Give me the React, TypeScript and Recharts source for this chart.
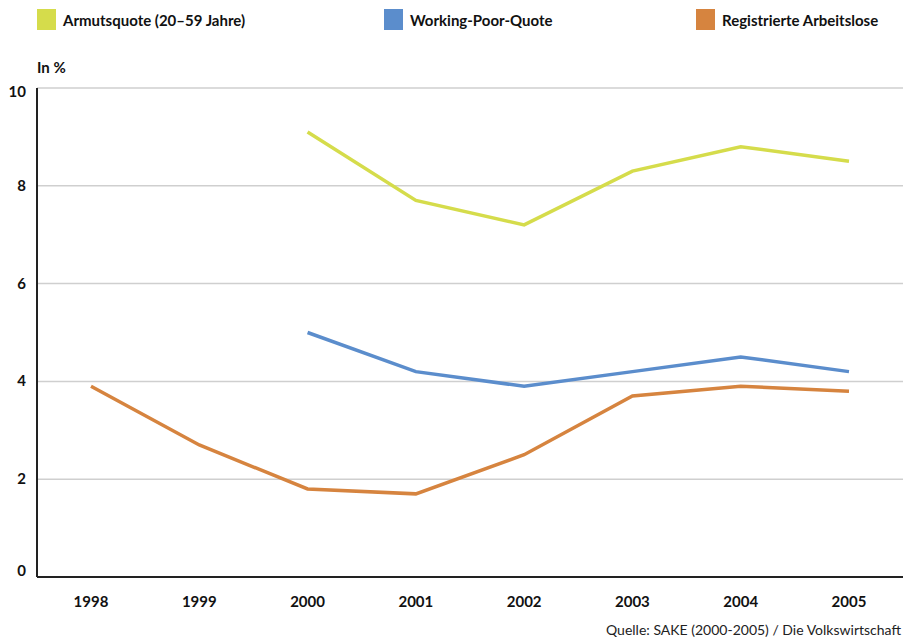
import React from 'react';
import { LineChart, Line, XAxis, YAxis, CartesianGrid } from 'recharts';

const years = ['1998', '1999', '2000', '2001', '2002', '2003', '2004', '2005'];
const armutsquote = [null, null, 9.1, 7.7, 7.2, 8.3, 8.8, 8.5];
const workingPoor = [null, null, 5.0, 4.2, 3.9, 4.2, 4.5, 4.2];
const arbeitslose = [3.9, 2.7, 1.8, 1.7, 2.5, 3.7, 3.9, 3.8];
const yTicks = [0, 2, 4, 6, 8, 10];

const series = [
  { key: 'armut', name: 'Armutsquote (20–59 Jahre)', color: '#d5dc4b', legendX: 37 },
  { key: 'wp', name: 'Working-Poor-Quote', color: '#5b8dcc', legendX: 384 },
  { key: 'reg', name: 'Registrierte Arbeitslose', color: '#d6843f', legendX: 696 },
];

const data = years.map((year, i) => ({
  year,
  armut: armutsquote[i],
  wp: workingPoor[i],
  reg: arbeitslose[i],
}));

const font = 'Lato, "Open Sans", sans-serif';

const YTick = (props: any) => {
  const { x, y, payload } = props;
  // top and bottom labels sit a little inside the axis range
  const shift = payload.value === 10 ? 4 : payload.value === 0 ? -6 : 0;
  return (
    <text x={x} y={y + shift} dy={5} textAnchor="end" fontSize={15} fontWeight={700} fill="#111" fontFamily={font}>
      {payload.value}
    </text>
  );
};

export default function App() {
  return (
    <div style={{ position: 'absolute', left: 0, top: 0, width: 903, height: 639, background: '#fff', fontFamily: font, overflow: 'hidden' }}>
      {series.map(s => (
        <div key={s.key} style={{ position: 'absolute', left: s.legendX, top: 9, display: 'flex', alignItems: 'center' }}>
          <div style={{ width: 19, height: 21, background: s.color, marginRight: 7 }} />
          <span style={{ fontSize: 15, fontWeight: 700, color: '#111' }}>{s.name}</span>
        </div>
      ))}
      <div style={{ position: 'absolute', left: 37, top: 58, fontSize: 15, fontWeight: 700, color: '#111' }}>In %</div>
      <LineChart width={903} height={639} data={data} margin={{ top: 88, right: 0, bottom: 0, left: 0 }}>
        <CartesianGrid vertical={false} stroke="#cfcfcf" strokeWidth={1.5} />
        <XAxis
          dataKey="year"
          height={62}
          padding={{ left: 54, right: 54 }}
          axisLine={{ stroke: '#222', strokeWidth: 2 }}
          tickLine={false}
          tickMargin={13}
          tick={{ fontSize: 15, fontWeight: 700, fill: '#111', fontFamily: font }}
        />
        <YAxis
          width={37}
          domain={[0, 10]}
          ticks={yTicks}
          axisLine={{ stroke: '#222', strokeWidth: 2 }}
          tickLine={false}
          tickSize={0}
          tickMargin={11}
          tick={<YTick />}
        />
        {series.map(s => (
          <Line
            key={s.key}
            type="linear"
            dataKey={s.key}
            name={s.name}
            stroke={s.color}
            strokeWidth={3.5}
            dot={false}
            activeDot={false}
            isAnimationActive={false}
          />
        ))}
      </LineChart>
      <div style={{ position: 'absolute', left: 606, top: 621, fontSize: 14, color: '#222', whiteSpace: 'nowrap' }}>
        Quelle: SAKE (2000-2005) / Die Volkswirtschaft
      </div>
    </div>
  );
}
